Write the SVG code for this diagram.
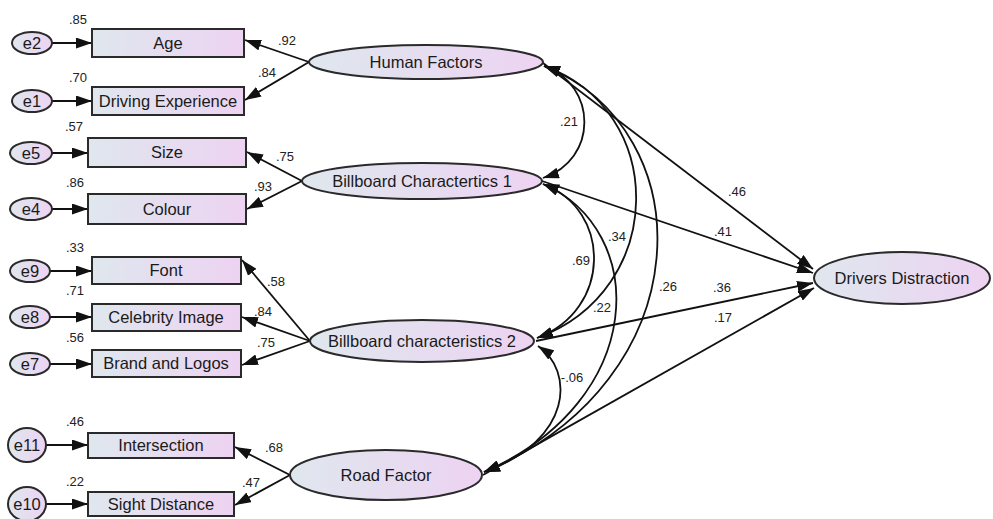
<svg xmlns="http://www.w3.org/2000/svg" width="993" height="519" viewBox="0 0 993 519">
<defs>
<linearGradient id="g" x1="0" y1="0" x2="1" y2="0">
<stop offset="0" stop-color="#dfe7ee"/>
<stop offset="1" stop-color="#edd3f2"/>
</linearGradient>
<marker id="ah" markerUnits="userSpaceOnUse" markerWidth="16" markerHeight="11" refX="16" refY="5.5" orient="auto-start-reverse" viewBox="0 0 16 11">
<path d="M0,0 L16,5.5 L0,11 z" fill="#111"/>
</marker>
<style>
.n{fill:url(#g);stroke:#2a2a2a;stroke-width:2}
.t{font-family:"Liberation Sans",Arial,sans-serif;font-size:16.5px;fill:#1a1a1a;text-anchor:middle}
.v{font-family:"Liberation Sans",Arial,sans-serif;font-size:13px;fill:#222;text-anchor:middle}
.c{fill:none;stroke:#111;stroke-width:1.8}
.a{marker-end:url(#ah)}
.b{marker-start:url(#ah);marker-end:url(#ah)}
</style>
</defs>
<g id="connectors">
<path class="c a" d="M52 43 L92 43"/>
<path class="c a" d="M52 101 L92 101"/>
<path class="c a" d="M52 153 L88 153"/>
<path class="c a" d="M52 209 L88 209"/>
<path class="c a" d="M50 271 L92 271"/>
<path class="c a" d="M50 317 L92 317"/>
<path class="c a" d="M50 364 L92 364"/>
<path class="c a" d="M46 445 L88 445"/>
<path class="c a" d="M46 504 L88 504"/>
<path class="c a" d="M309 62 L245 40"/>
<path class="c a" d="M309 62 L245 100"/>
<path class="c a" d="M302 181 L247 152"/>
<path class="c a" d="M302 181 L247 209"/>
<path class="c a" d="M310 341 L242 260"/>
<path class="c a" d="M310 341 L242 317"/>
<path class="c a" d="M310 341 L242 365"/>
<path class="c a" d="M290 475 L235 447"/>
<path class="c a" d="M290 475 L235 505"/>
<path class="c a" d="M543 63 L813 269"/>
<path class="c a" d="M542 181 L813 273"/>
<path class="c a" d="M536 341 L813 283"/>
<path class="c a" d="M483 475 L814 288"/>
<path class="c b" d="M544 66 C 598 85, 598 160, 543 178"/>
<path class="c b" d="M544 66 C 668 110, 668 290, 537 338"/>
<path class="c b" d="M544 66 C 704 130, 704 380, 484 472"/>
<path class="c b" d="M543 184 C 612 210, 612 310, 537 338"/>
<path class="c b" d="M543 184 C 649 230, 649 400, 484 472"/>
<path class="c b" d="M538 346 C 574 370, 574 440, 484 472"/>
</g>
<g id="e2"><ellipse class="n" cx="32" cy="43" rx="20" ry="11"/><text class="t" x="32" y="49">e2</text></g>
<g id="e1"><ellipse class="n" cx="32" cy="101" rx="20" ry="11"/><text class="t" x="32" y="107">e1</text></g>
<g id="e5"><ellipse class="n" cx="31" cy="153" rx="21" ry="11"/><text class="t" x="31" y="159">e5</text></g>
<g id="e4"><ellipse class="n" cx="31" cy="209" rx="21" ry="11"/><text class="t" x="31" y="215">e4</text></g>
<g id="e9"><ellipse class="n" cx="30" cy="271" rx="20" ry="11"/><text class="t" x="30" y="277">e9</text></g>
<g id="e8"><ellipse class="n" cx="30" cy="317" rx="20" ry="11"/><text class="t" x="30" y="323">e8</text></g>
<g id="e7"><ellipse class="n" cx="30" cy="364" rx="20" ry="11"/><text class="t" x="30" y="370">e7</text></g>
<g id="e11"><ellipse class="n" cx="27" cy="445" rx="19" ry="17"/><text class="t" x="27" y="451">e11</text></g>
<g id="e10"><ellipse class="n" cx="27" cy="504" rx="19" ry="17"/><text class="t" x="27" y="510">e10</text></g>
<g id="age"><rect class="n" x="92" y="29" width="152" height="28"/><text class="t" x="168" y="49">Age</text></g>
<g id="driving"><rect class="n" x="92" y="87" width="152" height="28"/><text class="t" x="168" y="107">Driving Experience</text></g>
<g id="size"><rect class="n" x="88" y="138" width="158" height="29"/><text class="t" x="167" y="158">Size</text></g>
<g id="colour"><rect class="n" x="88" y="194" width="158" height="30"/><text class="t" x="167" y="215">Colour</text></g>
<g id="font"><rect class="n" x="92" y="257" width="149" height="27"/><text class="t" x="166" y="276">Font</text></g>
<g id="celebrity"><rect class="n" x="92" y="304" width="149" height="27"/><text class="t" x="166" y="323">Celebrity Image</text></g>
<g id="brand"><rect class="n" x="92" y="350" width="149" height="27"/><text class="t" x="166" y="369">Brand and Logos</text></g>
<g id="intersection"><rect class="n" x="88" y="433" width="146" height="25"/><text class="t" x="161" y="451">Intersection</text></g>
<g id="sight"><rect class="n" x="88" y="492" width="146" height="24"/><text class="t" x="161" y="510">Sight Distance</text></g>
<g id="human"><ellipse class="n" cx="426" cy="62" rx="117" ry="17"/><text class="t" x="426" y="68">Human Factors</text></g>
<g id="bc1"><ellipse class="n" cx="422" cy="181" rx="120" ry="18"/><text class="t" x="422" y="187">Billboard Charactertics 1</text></g>
<g id="bc2"><ellipse class="n" cx="422" cy="341" rx="112" ry="21"/><text class="t" x="422" y="347">Billboard characteristics 2</text></g>
<g id="road"><ellipse class="n" cx="386" cy="475" rx="96" ry="25"/><text class="t" x="386" y="481">Road Factor</text></g>
<g id="dd"><ellipse class="n" cx="902" cy="278" rx="88" ry="26"/><text class="t" x="902" y="284">Drivers Distraction</text></g>
<g id="labels">
<text class="v" x="78" y="24">.85</text>
<text class="v" x="78" y="82">.70</text>
<text class="v" x="74" y="131">.57</text>
<text class="v" x="75" y="187">.86</text>
<text class="v" x="75" y="252">.33</text>
<text class="v" x="75" y="295">.71</text>
<text class="v" x="75" y="342">.56</text>
<text class="v" x="75" y="426">.46</text>
<text class="v" x="75" y="486">.22</text>
<text class="v" x="287" y="45">.92</text>
<text class="v" x="267" y="77">.84</text>
<text class="v" x="285" y="161">.75</text>
<text class="v" x="263" y="191">.93</text>
<text class="v" x="276" y="286">.58</text>
<text class="v" x="263" y="316">.84</text>
<text class="v" x="266" y="347">.75</text>
<text class="v" x="274" y="452">.68</text>
<text class="v" x="251" y="487">.47</text>
<text class="v" x="569" y="126">.21</text>
<text class="v" x="617" y="241">.34</text>
<text class="v" x="581" y="265">.69</text>
<text class="v" x="602" y="312">.22</text>
<text class="v" x="668" y="291">.26</text>
<text class="v" x="572" y="382">-.06</text>
<text class="v" x="737" y="196">.46</text>
<text class="v" x="723" y="236">.41</text>
<text class="v" x="722" y="292">.36</text>
<text class="v" x="723" y="322">.17</text>
</g>
</svg>
